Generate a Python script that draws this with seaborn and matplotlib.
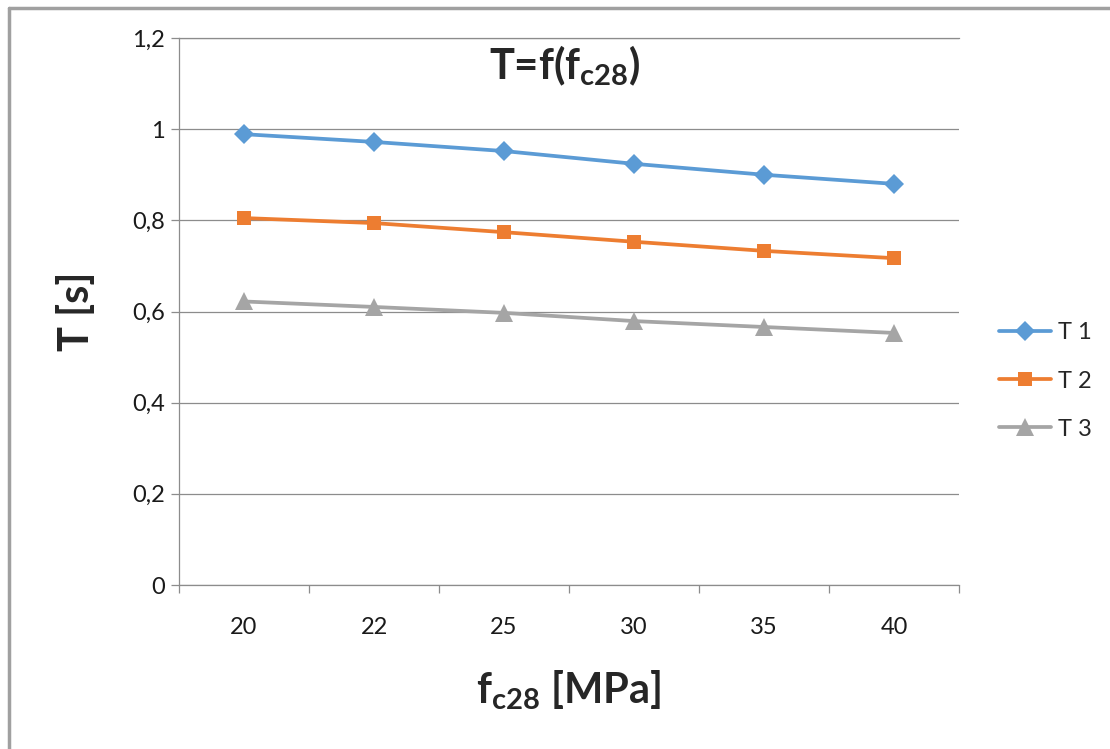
import pandas as pd
import matplotlib.pyplot as plt
import seaborn as sns
from matplotlib.lines import Line2D

fc28 = ["20", "22", "25", "30", "35", "40"]
t1 = [0.989, 0.972, 0.952, 0.924, 0.900, 0.880]
t2 = [0.805, 0.794, 0.774, 0.753, 0.733, 0.717]
t3 = [0.622, 0.610, 0.597, 0.579, 0.566, 0.553]
series_names = ["T 1", "T 2", "T 3"]
y_ticks = [0, 0.2, 0.4, 0.6, 0.8, 1.0, 1.2]

sns.set_theme(style="white")
plt.rcParams["font.family"] = ["Lato", "DejaVu Sans"]
plt.rcParams["mathtext.fontset"] = "custom"
plt.rcParams["mathtext.rm"] = "Lato"
plt.rcParams["mathtext.bf"] = "Lato:bold"
plt.rcParams["mathtext.it"] = "Lato:italic"

df = pd.DataFrame({
    "fc28": fc28 * 3,
    "T": t1 + t2 + t3,
    "serie": [s for s in series_names for _ in fc28],
})

colors = ["#5B9BD5", "#ED7D31", "#A5A5A5"]
grid_c = "#8C8C8C"

fig = plt.figure(figsize=(11.1, 7.49), dpi=100)
ax = fig.add_axes([179 / 1110, 1 - 585 / 749, 780 / 1110, 547 / 749])

sns.lineplot(data=df, x="fc28", y="T", hue="serie", style="serie",
             palette=colors, markers=["D", "s", "^"], dashes=False,
             sort=False, linewidth=2.7, markersize=10.5, markeredgewidth=0,
             ax=ax)

# triangles look smaller at the same size, bump them
for ln in ax.lines:
    if ln.get_marker() == "^":
        ln.set_markersize(13)

ax.set_xlim(-0.5, 5.5)
ax.set_ylim(0, 1.2)
ax.set_yticks(y_ticks)
ax.set_yticklabels([f"{v:g}".replace(".", ",") for v in y_ticks])
ax.set_xticks(range(len(fc28)))
ax.set_xticklabels(fc28)
ax.set_xticks([i - 0.5 for i in range(len(fc28) + 1)], minor=True)

ax.grid(axis="y", color=grid_c, linewidth=0.9)
ax.set_axisbelow(True)
ax.spines["right"].set_visible(False)
for side in ["left", "bottom", "top"]:
    ax.spines[side].set_color(grid_c)
    ax.spines[side].set_linewidth(0.9)

ax.tick_params(axis="y", which="major", length=6, width=0.9, color=grid_c,
               left=True, pad=4, labelsize=17, labelcolor="#1a1a1a")
ax.tick_params(axis="x", which="major", length=0, pad=23, labelsize=17,
               labelcolor="#1a1a1a")
ax.tick_params(axis="x", which="minor", length=6, width=0.9, color=grid_c,
               bottom=True)

ax.set_xlabel(r"f$_{\mathbf{c28}}$ [MPa]", fontsize=30, fontweight="bold",
              labelpad=22)
ax.set_ylabel("T [s]", fontsize=30, fontweight="bold", labelpad=26)
ax.text(0.495, 0.95, r"T=f(f$_{\mathbf{c28}}$)", transform=ax.transAxes,
        ha="center", va="center", fontsize=30, fontweight="bold")

handles, labels = ax.get_legend_handles_labels()
for h in handles:
    if h.get_marker() == "^":
        h.set_markersize(13)
ax.legend(handles, labels, loc="center left", bbox_to_anchor=(999 / 1110, 1 - 381 / 749),
          bbox_transform=fig.transFigure, frameon=False, fontsize=17,
          handlelength=2.2, handletextpad=0.3, labelspacing=1.15, borderpad=0,
          borderaxespad=0)

fig.add_artist(Line2D([9 / 1110, 9 / 1110], [0, 1 - 8 / 749], color="#A0A0A0",
                      linewidth=2.5, transform=fig.transFigure))
fig.add_artist(Line2D([9 / 1110, 1], [1 - 8 / 749, 1 - 8 / 749], color="#A0A0A0",
                      linewidth=2.5, transform=fig.transFigure))

fig.savefig("out.png", dpi=100)
